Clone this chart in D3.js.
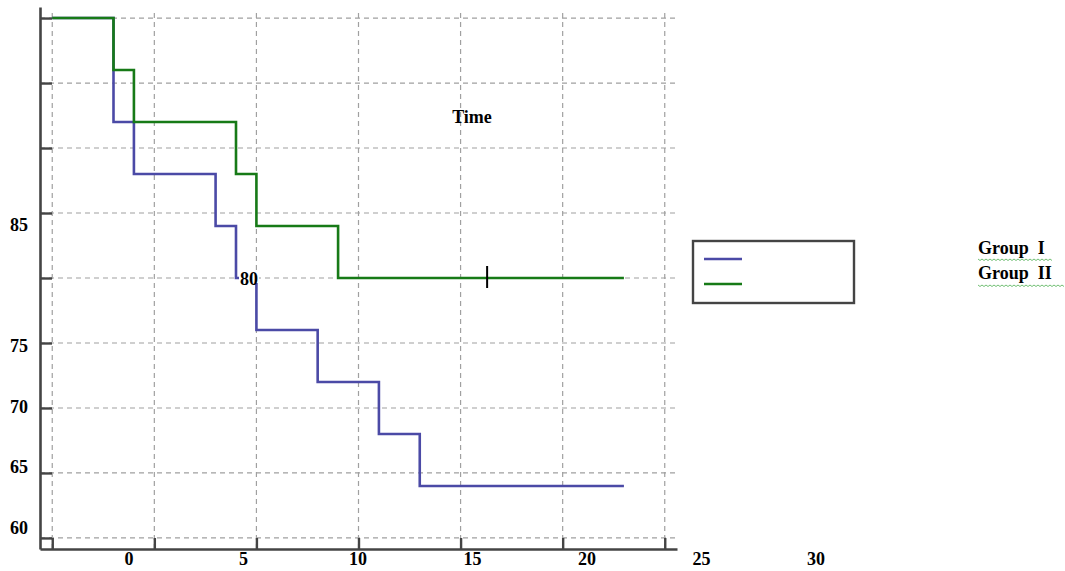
<!DOCTYPE html>
<html>
<head>
<meta charset="utf-8">
<script src="https://cdn.jsdelivr.net/npm/d3@7"></script>
<style>
  html, body { margin: 0; padding: 0; background: #fff; }
  svg { display: block; }
  text { font-family: "Liberation Serif", "Times New Roman", serif; font-weight: bold; fill: #000; white-space: pre; }
</style>
</head>
<body>
<svg id="chart" width="1065" height="571"></svg>
<script>
// ---- data ----
const groupITimes = [0, 3, 4, 8, 9, 10, 13, 16, 18, 28];
const groupISurv  = [100, 92, 88, 84, 80, 76, 72, 68, 64, 64];
const groupIITimes = [0, 3, 4, 9, 10, 14, 28];
const groupIISurv  = [100, 96, 92, 88, 84, 80, 80];
const censorTimes = [21.3];
const censorSurv  = [80];
const xTickValues = [0, 5, 10, 15, 20, 25, 30];
const yTickValues = [60, 65, 70, 75, 80, 85, 90, 95, 100];
const xTickLabels = ["0", "5", "10", "15", "20", "25", "30"];
const yTickLabels = ["60", "65", "70", "75", "80", "85"];
const seriesNames = ["Group  I", "Group  II"];
const axisTitle = "Time";

// ---- layout ----
const svg = d3.select("#chart");
const x = d3.scaleLinear().domain([-0.6, 30.6]).range([40, 677]);
const y = d3.scaleLinear().domain([59.15, 100.85]).range([549, 7]);
// tick-label placement (the labels sit offset from their ticks in the original)
const xLab = d3.scaleLinear().domain([0, 30]).range([129, 816]);
const yLab = d3.scaleLinear().domain([60, 85]).range([528, 225]);

const blue = "#4b4aa6";
const green = "#177a17";
const axisColor = "#444";

// grid
const grid = svg.append("g");
grid.selectAll("line.v").data(xTickValues).join("line")
  .attr("x1", d => x(d)).attr("x2", d => x(d))
  .attr("y1", y.range()[1] + 6).attr("y2", y.range()[0])
  .attr("stroke", "#a0a0a0").attr("stroke-width", 1.2).attr("stroke-dasharray", "5,4");
grid.selectAll("line.h").data(yTickValues).join("line")
  .attr("x1", x.range()[0]).attr("x2", x.range()[1])
  .attr("y1", d => y(d)).attr("y2", d => y(d))
  .attr("stroke", "#a0a0a0").attr("stroke-width", 1.2).attr("stroke-dasharray", "5,4");

// axes (inward ticks, labels drawn separately)
const xAxis = svg.append("g").attr("transform", `translate(0,${y.range()[0]})`)
  .call(d3.axisBottom(x).tickValues(xTickValues).tickSizeInner(-11).tickSizeOuter(0).tickFormat(""));
const yAxis = svg.append("g").attr("transform", `translate(${x.range()[0]},0)`)
  .call(d3.axisLeft(y).tickValues(yTickValues).tickSizeInner(-12).tickSizeOuter(0).tickFormat(""));
[xAxis, yAxis].forEach(a => {
  a.select(".domain").attr("stroke", axisColor).attr("stroke-width", 2.6);
  a.selectAll(".tick line").attr("stroke", axisColor).attr("stroke-width", 2.4);
});

// survival curves
const line = d3.line().x(d => x(d[0])).y(d => y(d[1])).curve(d3.curveStepAfter);
const s1 = groupITimes.map((t, i) => [t, groupISurv[i]]);
const s2 = groupIITimes.map((t, i) => [t, groupIISurv[i]]);
svg.append("path").datum(s1).attr("d", line)
  .attr("fill", "none").attr("stroke", blue).attr("stroke-width", 2.6);
svg.append("path").datum(s2).attr("d", line)
  .attr("fill", "none").attr("stroke", green).attr("stroke-width", 2.6);

// censor marks
svg.append("g").selectAll("line").data(censorTimes).join("line")
  .attr("x1", d => x(d)).attr("x2", d => x(d))
  .attr("y1", (d, i) => y(censorSurv[i]) - 12).attr("y2", (d, i) => y(censorSurv[i]) + 10)
  .attr("stroke", "#000").attr("stroke-width", 2);

// tick labels
svg.append("g").selectAll("text").data(xTickValues).join("text")
  .attr("x", d => xLab(d)).attr("y", 565)
  .attr("text-anchor", "middle").attr("font-size", 18)
  .text((d, i) => xTickLabels[i]);
const yl = svg.append("g").selectAll("g").data(yTickLabels).join("g")
  .attr("transform", d => d === "80" ? `translate(249,${279 + 6})` : `translate(19,${yLab(+d) + 6})`);
yl.filter(d => d === "80").append("rect")
  .attr("x", -10).attr("y", -14).attr("width", 20).attr("height", 12).attr("fill", "#fff");
yl.append("text").attr("text-anchor", "middle").attr("font-size", 18).text(d => d);

// axis title
svg.append("text").attr("x", 472).attr("y", 123)
  .attr("text-anchor", "middle").attr("font-size", 18).text(axisTitle);

// legend
const leg = svg.append("g");
leg.append("rect").attr("x", 693).attr("y", 241).attr("width", 161).attr("height", 62)
  .attr("fill", "#fff").attr("stroke", axisColor).attr("stroke-width", 2.4);
const legColors = [blue, green];
leg.selectAll("line.k").data(seriesNames).join("line")
  .attr("x1", 704).attr("x2", 742)
  .attr("y1", (d, i) => 259 + i * 25).attr("y2", (d, i) => 259 + i * 25)
  .attr("stroke", (d, i) => legColors[i]).attr("stroke-width", 2.6);
leg.selectAll("text").data(seriesNames).join("text")
  .attr("x", 978).attr("y", (d, i) => 254 + i * 25)
  .attr("font-size", 18).text(d => d);
// spell-check style wavy underline
leg.selectAll("path.w").data(seriesNames).join("path")
  .attr("d", (d, i) => {
    const x0 = 978, x1 = i === 0 ? 1052 : 1063, yy = 259 + i * 26;
    let p = `M${x0},${yy}`;
    for (let xx = x0, k = 0; xx < x1; xx += 2, k++) p += ` L${xx + 2},${yy + (k % 2 ? 0 : 1.5)}`;
    return p;
  })
  .attr("fill", "none").attr("stroke", "#4caf50").attr("stroke-width", 0.8);
</script>
</body>
</html>
